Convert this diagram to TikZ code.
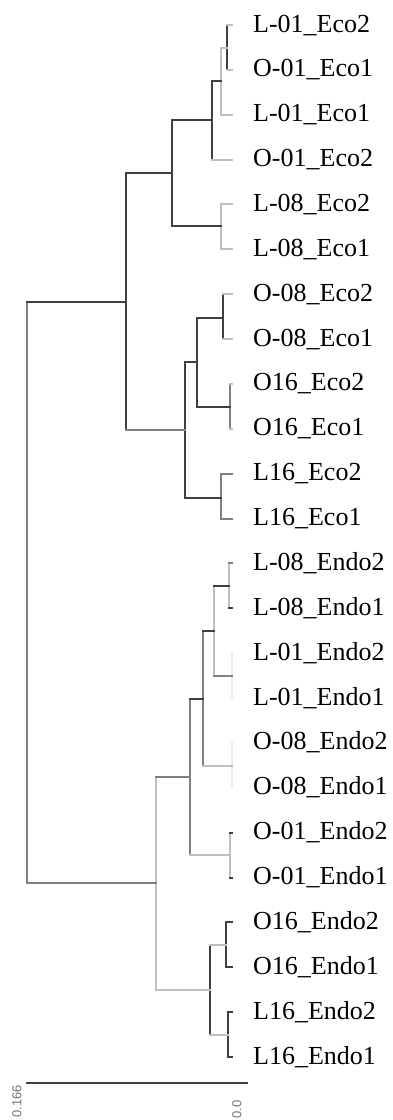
\documentclass[tikz,border=0pt]{standalone}
\usepackage{fontspec}
\setmainfont{Liberation Serif}
\setsansfont{Liberation Sans}
\begin{document}
\begin{tikzpicture}[x=1pt,y=-1pt,
  br/.style={line width=2pt,line cap=rect},
  dk/.style={br,draw=black!75},
  md/.style={br,draw=black!50},
  lt/.style={br,draw=black!25},
  vl/.style={br,draw=black!8},
  lbl/.style={anchor=base west,inner sep=0pt,font=\fontsize{26}{26}\selectfont},
  scl/.style={rotate=90,anchor=east,inner sep=0pt,text=black!55,font=\sffamily\fontsize{13}{13}\selectfont}]
\path[use as bounding box] (0,0) rectangle (393,1120);
% leaves
\foreach \i/\t in {1/L-01\_Eco2,2/O-01\_Eco1,3/L-01\_Eco1,4/O-01\_Eco2,5/L-08\_Eco2,6/L-08\_Eco1,
  7/O-08\_Eco2,8/O-08\_Eco1,9/O16\_Eco2,10/O16\_Eco1,11/L16\_Eco2,12/L16\_Eco1,
  13/L-08\_Endo2,14/L-08\_Endo1,15/L-01\_Endo2,16/L-01\_Endo1,17/O-08\_Endo2,18/O-08\_Endo1,
  19/O-01\_Endo2,20/O-01\_Endo1,21/O16\_Endo2,22/O16\_Endo1,23/L16\_Endo2,24/L16\_Endo1}{
  \coordinate (t\i) at (232,{25+44.87*(\i-1)});
  \node[lbl] (n\i) at ([xshift=21pt,yshift=-7pt]t\i) {\t};
}
% internal nodes
\coordinate (A) at (227,47.5);
\coordinate (B) at (221,80.7);
\coordinate (C) at (212,120.4);
\coordinate (E) at (221,226.3);
\coordinate (D) at (172,173.3);
\coordinate (F) at (223,317.5);
\coordinate (G) at (230,407.3);
\coordinate (H) at (197,362.4);
\coordinate (I) at (221,497.9);
\coordinate (J) at (185,430.1);
\coordinate (K) at (126,301.7);
\coordinate (a) at (229,586.4);
\coordinate (b) at (232,676.1);
\coordinate (c) at (214,631.3);
\coordinate (d) at (232,765.7);
\coordinate (e) at (203,698.5);
\coordinate (f) at (230,855.3);
\coordinate (g) at (190,776.9);
\coordinate (h) at (226,945.1);
\coordinate (i) at (228,1034.8);
\coordinate (j) at (210,989.9);
\coordinate (k) at (156,883.4);
\coordinate (R) at (27,592.5);
% edge macro: parent, child, vertical style, horizontal style
\newcommand\edge[4]{\draw[#3] (#1) -- (#1 |- #2); \draw[#4] (#1 |- #2) -- (#2);}
% Eco cluster
\edge{A}{t1}{dk}{lt} \edge{A}{t2}{dk}{lt}
\edge{B}{A}{lt}{lt} \edge{B}{t3}{lt}{lt}
\edge{C}{B}{dk}{dk} \edge{C}{t4}{dk}{lt}
\edge{E}{t5}{lt}{lt} \edge{E}{t6}{lt}{lt}
\edge{D}{C}{dk}{dk} \edge{D}{E}{dk}{dk}
\edge{F}{t7}{dk}{lt} \edge{F}{t8}{dk}{lt}
\edge{G}{t9}{md}{lt} \edge{G}{t10}{md}{lt}
\edge{H}{F}{dk}{dk} \edge{H}{G}{dk}{dk}
\edge{I}{t11}{md}{md} \edge{I}{t12}{md}{md}
\edge{J}{H}{dk}{dk} \edge{J}{I}{dk}{dk}
\edge{K}{D}{dk}{dk} \edge{K}{J}{dk}{md}
% Endo cluster
\edge{a}{t13}{lt}{md} \edge{a}{t14}{lt}{dk}
\edge{b}{t15}{vl}{vl} \edge{b}{t16}{vl}{vl}
\edge{c}{a}{lt}{dk} \edge{c}{b}{lt}{md}
\edge{d}{t17}{vl}{vl} \edge{d}{t18}{vl}{vl}
\edge{e}{c}{md}{dk} \edge{e}{d}{md}{lt}
\edge{f}{t19}{lt}{dk} \edge{f}{t20}{lt}{dk}
\edge{g}{e}{md}{dk} \edge{g}{f}{md}{lt}
\edge{h}{t21}{dk}{dk} \edge{h}{t22}{dk}{dk}
\edge{i}{t23}{dk}{dk} \edge{i}{t24}{dk}{dk}
\edge{j}{h}{dk}{lt} \edge{j}{i}{dk}{lt}
\edge{k}{g}{lt}{md} \edge{k}{j}{lt}{lt}
% root
\edge{R}{K}{md}{dk} \edge{R}{k}{md}{md}
% scale bar
\coordinate (s0) at (27,1083);
\coordinate (s1) at (247,1083);
\draw[dk,line width=1.5pt] (s0) -- (s1);
\node[scl] (sl0) at (17,1085) {0.166};
\node[scl] (sl1) at (237,1100) {0.0};
\end{tikzpicture}
\end{document}
